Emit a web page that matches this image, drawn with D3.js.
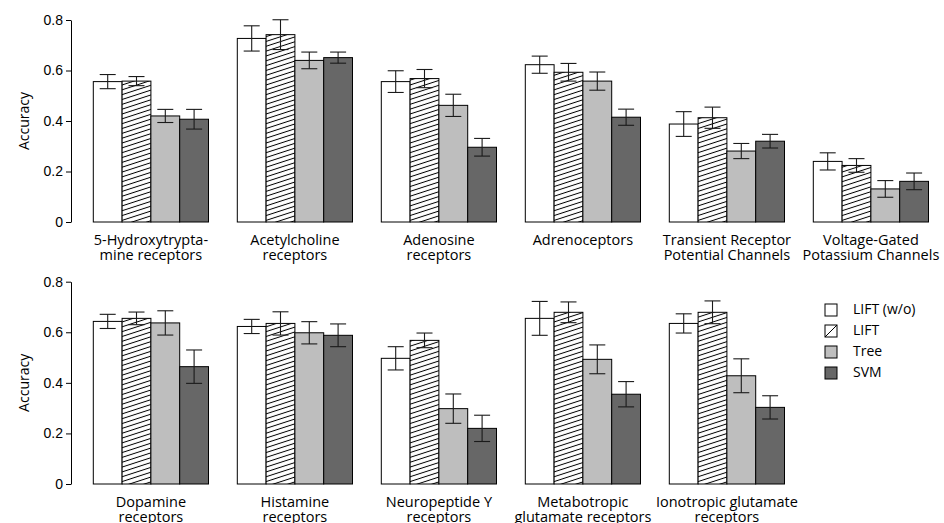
<!DOCTYPE html>
<html>
<head>
<meta charset="utf-8">
<script src="https://cdn.jsdelivr.net/npm/d3@7"></script>
<style>
    body { margin: 0; background: #fff; }
    svg { display: block; font-family: "Open Sans", "Noto Sans", sans-serif; }
    .axis text { font-size: 14px; fill: #000; }
    .axis path, .axis line { stroke: #000; }
    .cat-label { font-size: 14.5px; }
</style>
</head>
<body>
<svg id="chart" width="944" height="523"></svg>
<script>
// series (methods) and categories
const methods = ["LIFT (w/o)", "LIFT", "Tree", "SVM"];
const topCategories = [
    ["5-Hydroxytrypta-", "mine receptors"],
    ["Acetylcholine", "receptors"],
    ["Adenosine", "receptors"],
    ["Adrenoceptors"],
    ["Transient Receptor", "Potential Channels"],
    ["Voltage-Gated", "Potassium Channels"]
];
const bottomCategories = [
    ["Dopamine", "receptors"],
    ["Histamine", "receptors"],
    ["Neuropeptide Y", "receptors"],
    ["Metabotropic", "glutamate receptors"],
    ["Ionotropic glutamate", "receptors"]
];

// mean accuracy per category, one entry per method
const topValues = [
    [0.556, 0.558, 0.420, 0.407],
    [0.727, 0.742, 0.640, 0.651],
    [0.556, 0.568, 0.462, 0.296],
    [0.623, 0.593, 0.558, 0.415],
    [0.388, 0.413, 0.281, 0.320],
    [0.240, 0.224, 0.131, 0.161]
];
const topErrors = [
    [0.028, 0.018, 0.026, 0.039],
    [0.050, 0.059, 0.033, 0.022],
    [0.043, 0.036, 0.044, 0.035],
    [0.034, 0.035, 0.036, 0.032],
    [0.049, 0.042, 0.030, 0.027],
    [0.034, 0.027, 0.033, 0.033]
];
const bottomValues = [
    [0.643, 0.655, 0.637, 0.464],
    [0.623, 0.635, 0.598, 0.588],
    [0.497, 0.568, 0.298, 0.220],
    [0.655, 0.679, 0.493, 0.355],
    [0.635, 0.679, 0.428, 0.303]
];
const bottomErrors = [
    [0.028, 0.025, 0.048, 0.066],
    [0.028, 0.046, 0.044, 0.045],
    [0.046, 0.029, 0.058, 0.052],
    [0.067, 0.041, 0.057, 0.050],
    [0.038, 0.045, 0.067, 0.046]
];
const yTicks = [0, 0.2, 0.4, 0.6, 0.8];

const fills = ["#ffffff", "url(#hatch)", "#bebebe", "#676767"];

const svg = d3.select("#chart");

// hatch pattern for the LIFT bars
const defs = svg.append("defs");
defs.append("pattern")
    .attr("id", "hatch")
    .attr("patternUnits", "userSpaceOnUse")
    .attr("width", 12)
    .attr("height", 4.6)
    .attr("patternTransform", "rotate(-18)")
    .call(p => {
        p.append("rect").attr("width", 12).attr("height", 4.6).attr("fill", "#fff");
        p.append("line")
            .attr("x1", 0).attr("x2", 12)
            .attr("y1", 2.3).attr("y2", 2.3)
            .attr("stroke", "#000")
            .attr("stroke-width", 1);
    });

// shared horizontal layout: 6 slots per row
const slots = d3.range(6);
const x = d3.scaleBand()
    .domain(slots)
    .range([78.9, 942.9])
    .paddingInner(0.2)
    .paddingOuter(0.1);
const xInner = d3.scaleBand()
    .domain(d3.range(methods.length))
    .range([0, x.bandwidth()]);

const axisX = 71;

function drawRow(categories, values, errors, yRange) {
    const y = d3.scaleLinear().domain([0, 0.8]).range(yRange);
    const g = svg.append("g");

    const yAxis = d3.axisLeft(y)
        .tickValues(yTicks)
        .tickFormat(d => d === 0 ? "0" : d3.format(".1f")(d))
        .tickSize(5)
        .tickSizeOuter(0)
        .tickPadding(3);

    g.append("g")
        .attr("class", "axis")
        .attr("transform", `translate(${axisX},0)`)
        .call(yAxis);

    g.append("text")
        .attr("transform", `translate(25, ${(yRange[0] + yRange[1]) / 2}) rotate(-90)`)
        .attr("text-anchor", "middle")
        .attr("dominant-baseline", "middle")
        .style("font-size", "14px")
        .text("Accuracy");

    const groups = g.selectAll(".group")
        .data(values.map((v, i) => ({ i, v, e: errors[i], label: categories[i] })))
        .enter()
        .append("g")
        .attr("class", "group")
        .attr("transform", d => `translate(${x(d.i)},0)`);

    const bars = groups.selectAll(".bar")
        .data(d => d.v.map((v, j) => ({ j, v, e: d.e[j] })))
        .enter();

    bars.append("rect")
        .attr("x", d => xInner(d.j))
        .attr("y", d => y(d.v))
        .attr("width", xInner.bandwidth())
        .attr("height", d => y(0) - y(d.v))
        .attr("fill", d => fills[d.j])
        .attr("stroke", "#000")
        .attr("stroke-width", 1);

    // error bars
    const cap = 8;
    const err = bars.append("g")
        .attr("stroke", "#1a1a1a")
        .attr("stroke-width", 1.1);
    err.append("line")
        .attr("x1", d => xInner(d.j) + xInner.bandwidth() / 2)
        .attr("x2", d => xInner(d.j) + xInner.bandwidth() / 2)
        .attr("y1", d => y(d.v + d.e))
        .attr("y2", d => y(d.v - d.e));
    err.append("line")
        .attr("x1", d => xInner(d.j) + xInner.bandwidth() / 2 - cap)
        .attr("x2", d => xInner(d.j) + xInner.bandwidth() / 2 + cap)
        .attr("y1", d => y(d.v + d.e))
        .attr("y2", d => y(d.v + d.e));
    err.append("line")
        .attr("x1", d => xInner(d.j) + xInner.bandwidth() / 2 - cap)
        .attr("x2", d => xInner(d.j) + xInner.bandwidth() / 2 + cap)
        .attr("y1", d => y(d.v - d.e))
        .attr("y2", d => y(d.v - d.e));

    // category labels, one text per line
    groups.selectAll(".cat-label")
        .data(d => d.label)
        .enter()
        .append("text")
        .attr("class", "cat-label")
        .attr("text-anchor", "middle")
        .attr("x", x.bandwidth() / 2)
        .attr("y", (d, i) => y(0) + 23 + i * 15)
        .text(d => d);
}

drawRow(topCategories, topValues, topErrors, [222, 20]);
drawRow(bottomCategories, bottomValues, bottomErrors, [484, 281.7]);

// legend
const legend = svg.append("g")
    .attr("transform", "translate(825,304)");
const items = legend.selectAll(".item")
    .data(methods)
    .enter()
    .append("g")
    .attr("transform", (d, i) => `translate(0,${i * 21})`);
items.append("rect")
    .attr("width", 12)
    .attr("height", 12)
    .attr("fill", (d, i) => i === 1 ? "#fff" : fills[i])
    .attr("stroke", "#000")
    .attr("stroke-width", 1);
items.filter((d, i) => i === 1)
    .append("line")
    .attr("x1", 0).attr("y1", 12)
    .attr("x2", 12).attr("y2", 0)
    .attr("stroke", "#000");
items.append("text")
    .attr("x", 28)
    .attr("y", 6)
    .attr("dominant-baseline", "middle")
    .style("font-size", "14px")
    .text(d => d);
</script>
</body>
</html>
